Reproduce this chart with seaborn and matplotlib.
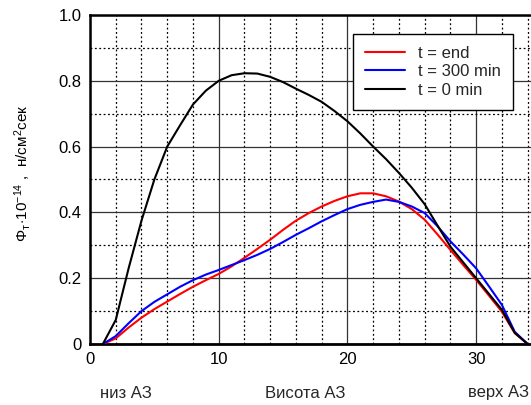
import matplotlib
matplotlib.use("Agg")
import matplotlib.pyplot as plt
from matplotlib.ticker import MultipleLocator, FixedLocator
import pandas as pd
import seaborn as sns

# Flux profiles along the core height
x_end = [1, 2, 3, 4, 5, 6, 7, 8, 9, 10, 11, 12, 13, 14, 15, 16, 17, 18, 19, 20, 21, 22, 23,
         24, 25, 26, 27, 28, 29, 30, 31, 32, 33, 34]
y_end = [0, 0.017, 0.05, 0.08, 0.106, 0.129, 0.152, 0.174, 0.194, 0.213, 0.236, 0.262,
         0.289, 0.317, 0.347, 0.375, 0.398, 0.418, 0.435, 0.449, 0.458, 0.458, 0.449, 0.433,
         0.41, 0.378, 0.333, 0.286, 0.24, 0.195, 0.147, 0.098, 0.033, 0]

x_300 = [1, 2, 3, 4, 5, 6, 7, 8, 9, 10, 11, 12, 13, 14, 15, 16, 17, 18, 19, 20, 21, 22, 23,
         24, 25, 26, 27, 28, 29, 30, 31, 32, 33, 34]
y_300 = [0, 0.024, 0.063, 0.1, 0.128, 0.151, 0.174, 0.194, 0.211, 0.225, 0.24, 0.255, 0.271,
         0.289, 0.31, 0.332, 0.352, 0.373, 0.392, 0.41, 0.423, 0.432, 0.439, 0.432, 0.418,
         0.398, 0.358, 0.312, 0.272, 0.23, 0.175, 0.119, 0.037, 0]

x_0 = [1, 2, 3, 4, 5, 6, 7, 8, 9, 10, 11, 12, 13, 14, 15, 16, 17, 18, 19, 20, 21, 22, 23,
       24, 25, 26, 27, 28, 29, 30, 31, 32, 33, 34]
y_0 = [0, 0.073, 0.23, 0.375, 0.50, 0.60, 0.665, 0.728, 0.77, 0.80, 0.817, 0.823, 0.822,
       0.812, 0.796, 0.776, 0.757, 0.736, 0.708, 0.677, 0.64, 0.60, 0.562, 0.52, 0.475,
       0.425, 0.36, 0.296, 0.248, 0.20, 0.152, 0.104, 0.034, 0]

series_names = ["t = end", "t = 300 min", "t = 0 min"]
series_colors = ["#ff0000", "#0000ff", "#000000"]
y_ticks = [0, 0.2, 0.4, 0.6, 0.8, 1.0]
y_tick_labels = ["0", "0.2", "0.4", "0.6", "0.8", "1.0"]
x_ticks = [0, 10, 20, 30]
bottom_texts = ["низ АЗ", "Висота АЗ", "верх АЗ"]

df = pd.concat([
    pd.DataFrame({"x": x_end, "y": y_end, "series": series_names[0]}),
    pd.DataFrame({"x": x_300, "y": y_300, "series": series_names[1]}),
    pd.DataFrame({"x": x_0, "y": y_0, "series": series_names[2]}),
], ignore_index=True)

sns.set_theme(style="white")
plt.rcParams["font.family"] = ["Liberation Sans", "DejaVu Sans"]
plt.rcParams["mathtext.fontset"] = "custom"
plt.rcParams["mathtext.rm"] = "Liberation Sans"
plt.rcParams["mathtext.it"] = "Liberation Sans"
plt.rcParams["mathtext.bf"] = "Liberation Sans:bold"

fig = plt.figure(figsize=(5.31, 4.05), dpi=100)
# axes spans slightly past the right edge of the canvas
ax = fig.add_axes([90 / 531, 1 - 344 / 405, (540.5 - 90) / 531, (344 - 15) / 405])

sns.lineplot(data=df, x="x", y="y", hue="series", hue_order=series_names,
             palette=dict(zip(series_names, series_colors)), linewidth=1.5,
             sort=False, estimator=None, ax=ax, zorder=3)

ax.set_xlim(0, 35)
ax.set_ylim(0, 1.0)
ax.xaxis.set_major_locator(FixedLocator(x_ticks))
ax.xaxis.set_minor_locator(MultipleLocator(2))
ax.yaxis.set_major_locator(FixedLocator(y_ticks))
ax.yaxis.set_minor_locator(MultipleLocator(0.1))
ax.set_yticklabels(y_tick_labels)

ax.grid(which="major", color="#333333", linewidth=0.9, linestyle="-", zorder=1)
ax.grid(which="minor", color="#000000", linewidth=0.9, linestyle=(0, (1.5, 2)), zorder=1)
ax.set_axisbelow(True)

for side in ["left", "bottom", "top", "right"]:
    ax.spines[side].set_color("black")
ax.spines["left"].set_linewidth(1.8)
ax.spines["bottom"].set_linewidth(2.0)
ax.spines["top"].set_linewidth(1.8)

ax.tick_params(axis="both", which="both", length=0, labelsize=12, colors="black", pad=6)

ax.set_xlabel("")
ax.set_ylabel(r"$\Phi_{\mathrm{т}}\!\cdot\!10^{-14}$ ,  н/см$^{2}$сек", fontsize=11, color="black")
ax.yaxis.set_label_coords(-57 / 450.5, 0.52)

fig.text(100 / 531, 1 - 393 / 405, bottom_texts[0], ha="left", va="center", fontsize=12)
fig.text(305 / 531, 1 - 393 / 405, bottom_texts[1], ha="center", va="center", fontsize=12)
fig.text(529 / 531, 1 - 393 / 405, bottom_texts[2], ha="right", va="center", fontsize=12)

handles, labels = ax.get_legend_handles_labels()
leg = ax.legend(handles, labels, loc="upper right",
                bbox_to_anchor=(513 / 531, 1 - 34 / 405), bbox_transform=fig.transFigure,
                borderaxespad=0, fontsize=12, frameon=True, fancybox=False,
                handlelength=2.4, handletextpad=0.8, borderpad=0.72, labelspacing=0.2)
leg.get_frame().set_edgecolor("black")
leg.get_frame().set_linewidth(1.0)
leg.get_frame().set_alpha(1)

fig.savefig("out.png", dpi=100)
